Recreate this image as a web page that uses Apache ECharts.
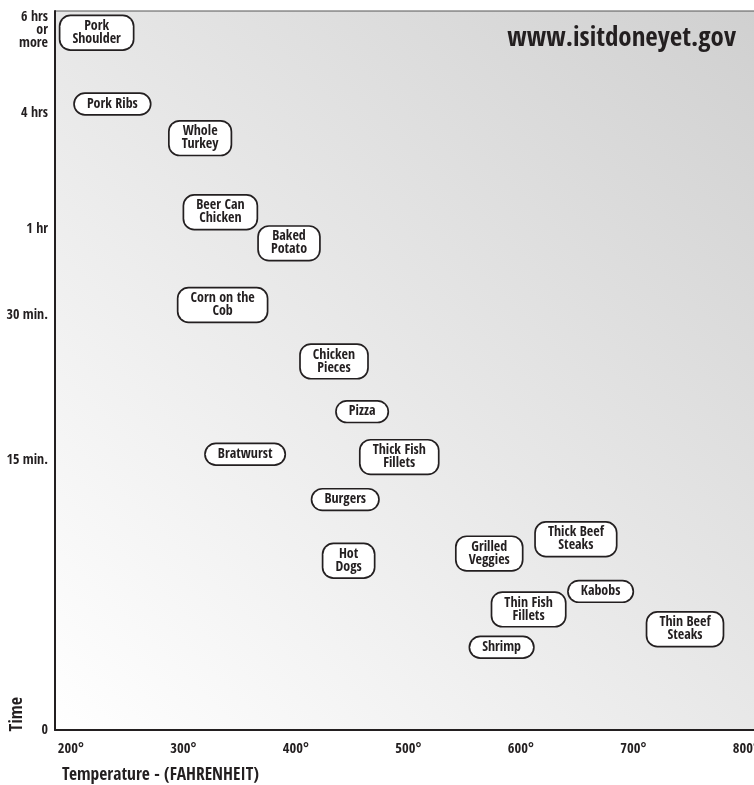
<!DOCTYPE html>
<html>
<head>
<meta charset="utf-8">
<script src="https://cdn.jsdelivr.net/npm/echarts@6/dist/echarts.min.js"></script>
<style>html,body{margin:0;padding:0;background:#fff;}#c{width:754px;height:785px;}</style>
</head>
<body>
<div id="c"></div>
<script>
// ---- data ----
const foods = ['Pork\nShoulder','Pork Ribs','Whole\nTurkey','Beer Can\nChicken','Baked\nPotato','Corn on the\nCob','Chicken\nPieces','Pizza','Bratwurst','Thick Fish\nFillets','Burgers','Hot\nDogs','Grilled\nVeggies','Thick Beef\nSteaks','Kabobs','Thin Fish\nFillets','Thin Beef\nSteaks','Shrimp'];
const temperatures = [223, 237, 315, 333, 394, 335, 434, 459, 355, 492, 444, 447, 572, 649, 671, 607, 746, 583];
const minutes = [356, 253, 201, 86, 55, 33.5, 25.2, 20, 15.6, 15.3, 12.8, 9.4, 9.8, 10.6, 7.7, 6.7, 5.6, 4.6];
const timeTickMinutes = [0, 15, 30, 60, 240, 360];
const timeTickLabels = ['0', '15 min.', '30 min.', '1 hr', '4 hrs', '6 hrs\nor\nmore'];
const timeTickScale = [0, 2.70, 4.15, 5.01, 6.17, 7.00];
const tempTicks = [200, 300, 400, 500, 600, 700, 800];

// piecewise mapping minutes -> axis scale (the chart's non-linear time axis)
function toScale(m){
  for (let i = 1; i < timeTickMinutes.length; i++){
    if (m <= timeTickMinutes[i] || i === timeTickMinutes.length - 1){
      const a = timeTickMinutes[i-1], b = timeTickMinutes[i];
      const sa = timeTickScale[i-1], sb = timeTickScale[i];
      return sa + (m - a) / (b - a) * (sb - sa);
    }
  }
}
const FONT = "'Open Sans Condensed','Roboto Condensed',sans-serif";
const INK = '#231f20';
const points = foods.map((f, i) => ({ name: f, value: [temperatures[i], toScale(minutes[i])] }));
const labelMap = {};
timeTickScale.forEach((s, i) => labelMap[s.toFixed(2)] = timeTickLabels[i]);

const chart = echarts.init(document.getElementById('c'), null, {renderer: 'canvas'});
chart.setOption({
  animation: false,
  backgroundColor: '#ffffff',
  title: [
    { text: 'www.isitdoneyet.gov', right: 13, top: 20,
      textStyle: { fontFamily: FONT, fontWeight: 'bold', fontSize: 27, color: INK } },
    { text: 'Temperature - (FAHRENHEIT)', left: 57, top: 761,
      textStyle: { fontFamily: FONT, fontWeight: 'bold', fontSize: 17.5, color: INK } }
  ],
  graphic: [{
    type: 'text', left: 8, top: 697, rotation: Math.PI / 2,
    style: { text: 'Time', font: "bold 18px " + FONT, fill: INK }
  }],
  grid: {
    left: 55, right: -3, top: 11, bottom: 55, show: true,
    outerBoundsMode: 'none', containLabel: false,
    borderColor: '#555', borderWidth: 1,
    backgroundColor: new echarts.graphic.LinearGradient(0, 1, 1, 0, [
      { offset: 0, color: '#ffffff' }, { offset: 1, color: '#d0d0d0' }
    ])
  },
  xAxis: {
    type: 'value', min: 186, max: 810,
    axisLine: { show: true, onZero: false, lineStyle: { color: INK, width: 2 } },
    axisTick: { show: false },
    splitLine: { show: false },
    axisLabel: {
      customValues: tempTicks,
      formatter: v => v + '°',
      margin: 12, fontFamily: FONT, fontWeight: 'bold', fontSize: 14.5, color: INK
    }
  },
  yAxis: {
    type: 'value', min: 0, max: 7.19,
    axisLine: { show: true, onZero: false, lineStyle: { color: INK, width: 2 } },
    axisTick: { show: false },
    splitLine: { show: false },
    axisLabel: {
      customValues: timeTickScale,
      formatter: v => labelMap[v.toFixed(2)] || '',
      margin: 7, fontFamily: FONT, fontWeight: 'bold', fontSize: 14, lineHeight: 13,
      color: INK, align: 'right'
    }
  },
  series: [{
    type: 'scatter',
    symbolSize: 1,
    itemStyle: { color: 'rgba(0,0,0,0)', opacity: 1 },
    emphasis: { disabled: true },
    data: points,
    label: {
      show: true, position: 'inside',
      formatter: p => p.name,
      fontFamily: FONT, fontWeight: 'bold', fontSize: 14, lineHeight: 13,
      color: INK, align: 'center', verticalAlign: 'middle',
      backgroundColor: '#ffffff', borderColor: INK, borderWidth: 1.7, borderRadius: 10,
      padding: [4, 12, 3, 12]
    }
  }]
});
</script>
</body>
</html>
